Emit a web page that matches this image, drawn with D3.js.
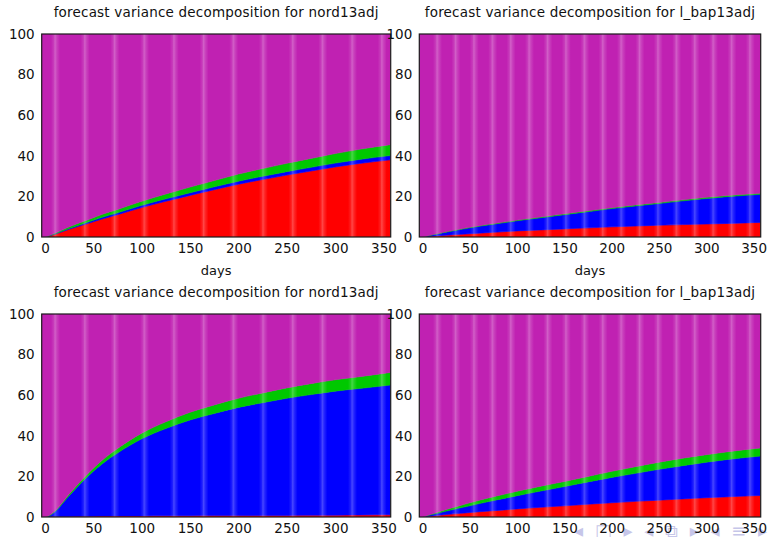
<!DOCTYPE html>
<html>
<head>
<meta charset="utf-8">
<script src="https://cdn.jsdelivr.net/npm/d3@7/dist/d3.min.js"></script>
<style>
  html, body { margin: 0; padding: 0; background: #fff; }
  svg { display: block; font-family: "DejaVu Sans", Verdana, sans-serif; }
</style>
</head>
<body>
<svg id="chart" width="769" height="537"></svg>
<script>
// Forecast horizon (days) at which the decomposition shares are given
const days = [0, 5, 10, 25, 40, 50, 60, 75, 100, 125, 150, 175, 200, 225, 250, 275, 300, 325, 357];

// Percentage of forecast error variance explained by each shock (red, blue, green);
// the remainder (purple) is 100 minus their sum.
const nordA_red   = [0, 0.6, 1.3, 3.8, 6, 7.5, 9, 11, 14.5, 17.6, 20.5, 23.3, 26, 28.3, 30.5, 32.5, 34.5, 36.2, 38];
const nordA_blue  = [0, 0.1, 0.2, 0.4, 0.6, 0.7, 0.8, 0.9, 1.1, 1.2, 1.3, 1.4, 1.5, 1.6, 1.7, 1.8, 1.9, 2.0, 2.1];
const nordA_green = [0, 0.15, 0.3, 0.8, 1.1, 1.3, 1.5, 1.7, 2.0, 2.4, 2.8, 3.1, 3.5, 3.8, 4.1, 4.4, 4.7, 5.0, 5.4];

const bapA_red   = [0, 0.2, 0.4, 0.9, 1.3, 1.6, 1.9, 2.3, 3.0, 3.5, 4.0, 4.5, 5.0, 5.4, 5.8, 6.1, 6.4, 6.7, 7.2];
const bapA_blue  = [0, 0.3, 0.6, 1.5, 2.4, 2.9, 3.4, 4.0, 5.0, 6.0, 7.0, 8.0, 9.0, 9.9, 10.7, 11.7, 12.6, 13.3, 13.8];
const bapA_green = [0, 0.05, 0.1, 0.2, 0.25, 0.3, 0.3, 0.3, 0.35, 0.4, 0.4, 0.45, 0.45, 0.5, 0.5, 0.5, 0.55, 0.55, 0.6];

const nordB_red   = [0, 0.1, 0.2, 0.3, 0.35, 0.4, 0.45, 0.5, 0.5, 0.6, 0.6, 0.7, 0.7, 0.8, 0.8, 0.9, 0.9, 1.0, 1.1];
const nordB_blue  = [0, 0.7, 2.3, 10.2, 17.65, 22.1, 26.05, 31, 38, 43, 47.2, 50.3, 53.3, 55.5, 57.7, 59.4, 61.1, 62.3, 63.9];
const nordB_green = [0, 0.15, 0.3, 0.8, 1.2, 1.5, 1.8, 2.2, 2.8, 3.3, 3.8, 4.2, 4.5, 4.8, 5.1, 5.4, 5.6, 5.8, 6.2];

const bapB_red   = [0, 0.25, 0.5, 1.2, 1.8, 2.2, 2.6, 3.1, 4.0, 4.8, 5.5, 6.3, 7.0, 7.7, 8.3, 8.9, 9.5, 10, 10.6];
const bapB_blue  = [0, 0.35, 0.7, 1.7, 2.7, 3.3, 4.0, 5.0, 6.5, 8.0, 9.5, 11.0, 12.5, 13.8, 15.2, 16.4, 17.5, 18.5, 19.4];
const bapB_green = [0, 0.15, 0.3, 0.8, 1.2, 1.5, 1.7, 1.9, 2.2, 2.4, 2.5, 2.7, 3.0, 3.3, 3.5, 3.7, 3.7, 3.8, 4.0];

const titles = [
  "forecast variance decomposition for nord13adj",
  "forecast variance decomposition for l_bap13adj",
  "forecast variance decomposition for nord13adj",
  "forecast variance decomposition for l_bap13adj"
];
const xTicks = [0, 50, 100, 150, 200, 250, 300, 350];
const yTicks = [0, 20, 40, 60, 80, 100];
const xLabel = "days";

const colors = { red: "#ff0000", blue: "#0000ff", green: "#00c800", purple: "#c021b2" };
const keys = ["red", "blue", "green", "purple"];

const panels = [
  { red: nordA_red, blue: nordA_blue, green: nordA_green, box: [41.7, 390.7, 34, 237], stripe: 29.7, s0: 55, xlab: true },
  { red: bapA_red,  blue: bapA_blue,  green: bapA_green,  box: [419.3, 760.7, 34, 237], stripe: 18.4, s0: 437, xlab: true },
  { red: nordB_red, blue: nordB_blue, green: nordB_green, box: [41.7, 390.7, 314, 517], stripe: 29.7, s0: 55, xlab: false },
  { red: bapB_red,  blue: bapB_blue,  green: bapB_green,  box: [419.3, 760.7, 314, 517], stripe: 18.4, s0: 437, xlab: false }
];

const svg = d3.select("#chart");
const defs = svg.append("defs");
const grad = defs.append("linearGradient").attr("id", "sheen").attr("x1", "0").attr("x2", "1").attr("y1", "0").attr("y2", "0");
grad.append("stop").attr("offset", "0%").attr("stop-color", "#fff").attr("stop-opacity", 0);
grad.append("stop").attr("offset", "30%").attr("stop-color", "#fff").attr("stop-opacity", 0.12);
grad.append("stop").attr("offset", "45%").attr("stop-color", "#fff").attr("stop-opacity", 0.28);
grad.append("stop").attr("offset", "65%").attr("stop-color", "#fff").attr("stop-opacity", 0.15);
grad.append("stop").attr("offset", "100%").attr("stop-color", "#fff").attr("stop-opacity", 0);

const labelLayer = [];

panels.forEach((p, i) => {
  const [x0, x1, y0, y1] = p.box;
  const x = d3.scaleLinear().domain([-3.4, 357.5]).range([x0, x1]);
  const y = d3.scaleLinear().domain([0, 100]).range([y1, y0]);

  const rows = days.map((d, j) => {
    const r = { day: d, red: p.red[j], blue: p.blue[j], green: p.green[j] };
    r.purple = 100 - r.red - r.blue - r.green;
    return r;
  });
  // extend the first row to the left edge of the frame
  const rowsExt = [Object.assign({}, rows[0], { day: -3.4 })].concat(rows);

  const series = d3.stack().keys(keys)(rowsExt);
  const area = d3.area()
    .x(d => x(d.data.day))
    .y0(d => y(d[0]))
    .y1(d => y(d[1]))
    .curve(d3.curveMonotoneX);

  const clipId = "clip" + i;
  defs.append("clipPath").attr("id", clipId)
    .append("rect").attr("x", x0).attr("y", y0).attr("width", x1 - x0).attr("height", y1 - y0);

  const g = svg.append("g").attr("clip-path", `url(#${clipId})`);
  g.selectAll("path.layer").data(series).join("path")
    .attr("class", "layer")
    .attr("fill", d => colors[d.key])
    .attr("stroke", d => colors[d.key])
    .attr("stroke-width", 0.6)
    .attr("d", area);

  // light vertical sheen bands across the filled region
  const bands = d3.range(p.s0, x1, p.stripe);
  g.selectAll("rect.band").data(bands).join("rect")
    .attr("class", "band")
    .attr("x", d => d - 4)
    .attr("y", y0)
    .attr("width", 9)
    .attr("height", y1 - y0)
    .attr("fill", "url(#sheen)");

  // frame
  svg.append("rect")
    .attr("x", x0).attr("y", y0)
    .attr("width", x1 - x0).attr("height", y1 - y0)
    .attr("fill", "none").attr("stroke", "#1a1a1a").attr("stroke-width", 1.2);

  // title
  svg.append("text")
    .attr("x", (x0 + x1) / 2).attr("y", y0 - 17)
    .attr("text-anchor", "middle")
    .attr("font-size", 13.5).attr("letter-spacing", 0.2).attr("fill", "#111")
    .text(titles[i]);

  labelLayer.push({ x, y, x0, x1, y0, y1, xlab: p.xlab });
});

// navigation symbols along the lower right edge, beneath the tick labels
svg.append("text")
  .attr("x", 574).attr("y", 537)
  .attr("font-size", 18).attr("letter-spacing", 3).attr("fill", "#b4b4e2").attr("opacity", 0.75)
  .text("◂ □ ▸ ◂ ⧉ ▸ ◂ ≡ ▸ ◂ ≡ ▸");

// tick labels drawn last so they sit on top of neighbouring panels
labelLayer.forEach(L => {
  const gx = svg.append("g").attr("transform", `translate(0,${L.y1})`)
    .call(d3.axisBottom(L.x).tickValues(xTicks).tickSize(0).tickPadding(6));
  gx.select(".domain").remove();
  gx.selectAll("text").attr("font-size", 13.5).attr("fill", "#111").attr("font-family", "DejaVu Sans, sans-serif");

  const gy = svg.append("g").attr("transform", `translate(${L.x0},0)`)
    .call(d3.axisLeft(L.y).tickValues(yTicks).tickSize(0).tickPadding(7));
  gy.select(".domain").remove();
  gy.selectAll("text").attr("font-size", 13.5).attr("fill", "#111").attr("font-family", "DejaVu Sans, sans-serif");

  if (L.xlab) {
    svg.append("text")
      .attr("x", (L.x0 + L.x1) / 2).attr("y", L.y1 + 38)
      .attr("text-anchor", "middle").attr("font-size", 13).attr("fill", "#111")
      .text(xLabel);
  }
});
</script>
</body>
</html>
